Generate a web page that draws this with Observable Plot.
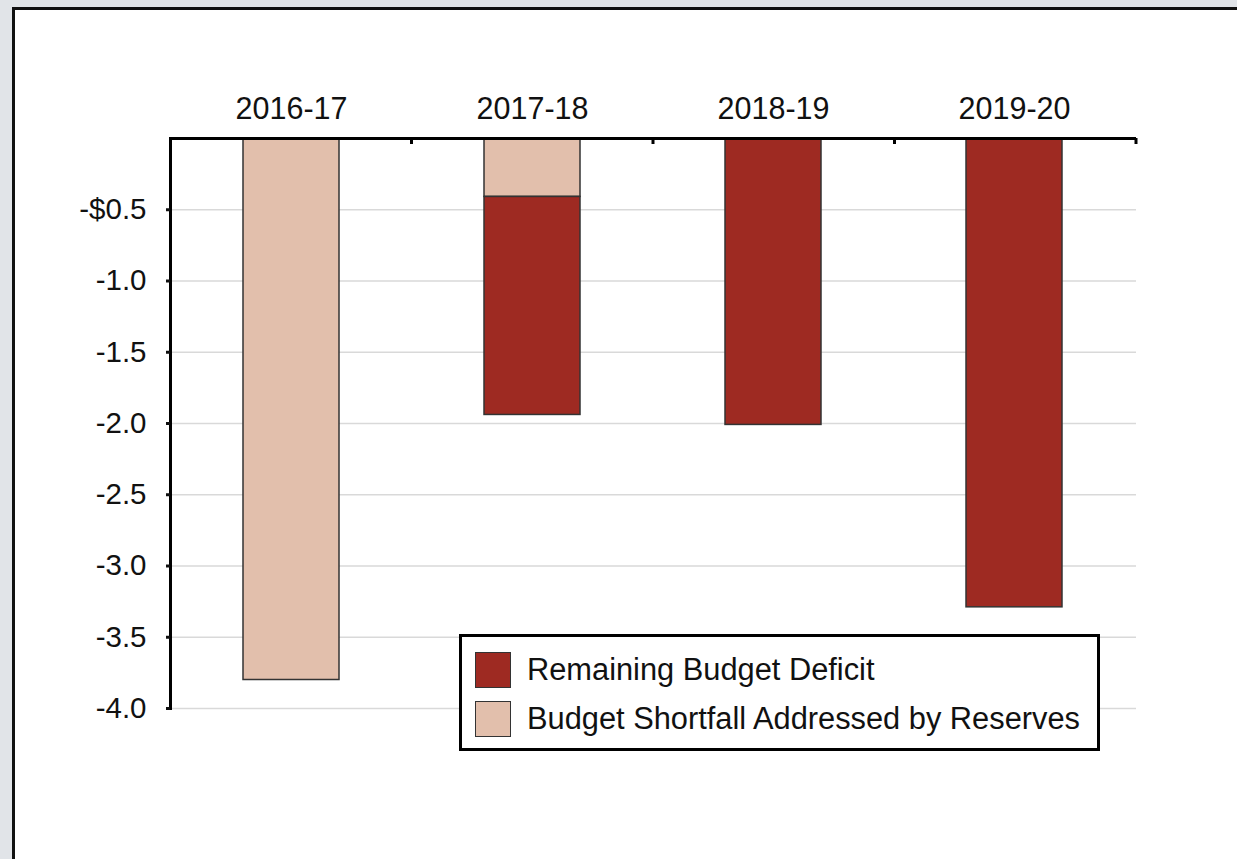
<!DOCTYPE html>
<html><head><meta charset="utf-8">
<script src="https://cdn.jsdelivr.net/npm/d3@7"></script>
<script src="https://cdn.jsdelivr.net/npm/@observablehq/plot@0.6"></script>
<style>
html,body{margin:0;padding:0;background:#e1e4e8;width:1237px;height:859px;overflow:hidden;}
#panel{position:absolute;left:12px;top:7px;width:1300px;height:900px;background:#fff;border:3px solid #111;}
#chart{position:absolute;left:0;top:0;}
#legend{position:absolute;left:459px;top:634px;width:635px;height:111px;border:3px solid #000;background:#fff;
  font-family:"Liberation Sans",Arial,sans-serif;font-size:30.8px;color:#111;box-sizing:content-box;}
.row{position:absolute;left:13px;display:flex;align-items:center;height:38px;}
.sw{width:34px;height:34px;border:1.5px solid #333;margin-right:16px;}
</style></head>
<body><div id="panel"></div><div id="chart"></div><div id="legend"></div>
<script>
const years = ["2016-17", "2017-18", "2018-19", "2019-20"];
const reserves = [-3.8, -0.41, 0, 0];
const deficit = [0, -1.53, -2.01, -3.29];
const series = ["Budget Shortfall Addressed by Reserves", "Remaining Budget Deficit"];
const colors = ["#e2bfac", "#9e2a22"];
const legendOrder = ["Remaining Budget Deficit", "Budget Shortfall Addressed by Reserves"];
const yTicks = [-0.5, -1, -1.5, -2, -2.5, -3, -3.5, -4];
const yTickLabels = ["-$0.5", "-1.0", "-1.5", "-2.0", "-2.5", "-3.0", "-3.5", "-4.0"];

const data = [];
years.forEach((y, i) => {
  if (reserves[i]) data.push({year: y, series: series[0], value: reserves[i]});
  if (deficit[i]) data.push({year: y, series: series[1], value: deficit[i]});
});

function boundaryTicks(index, scales, values, dims) {
  const g = d3.create("svg:g");
  const step = (dims.width - dims.marginLeft - dims.marginRight) / years.length;
  for (let k = 1; k <= years.length; k++) {
    const x = dims.marginLeft + step * k;
    g.append("line").attr("x1", x).attr("x2", x)
      .attr("y1", dims.marginTop).attr("y2", dims.marginTop + 6)
      .attr("stroke", "#000").attr("stroke-width", 3);
  }
  return g.node();
}

const chart = Plot.plot({
  width: 1237,
  height: 859,
  marginLeft: 170,
  marginRight: 101,
  marginTop: 138,
  marginBottom: 151,
  style: {fontFamily: "'Liberation Sans', Arial, sans-serif", background: "transparent", color: "#111"},
  x: {domain: years, paddingInner: 0.6, paddingOuter: 0.3, label: null},
  y: {domain: [-4, 0], label: null},
  color: {domain: series, range: colors},
  marks: [
    Plot.gridY(yTicks, {stroke: "#d9d9d9", strokeOpacity: 1, strokeWidth: 1.5}),
    Plot.barY(data, {x: "year", y: "value", fill: "series", stroke: "#333", strokeWidth: 1.5}),
    Plot.ruleY([0], {stroke: "#000", strokeWidth: 3}),
    Plot.frame({anchor: "left", stroke: "#000", strokeWidth: 3}),
    boundaryTicks,
    Plot.axisY(yTicks, {tickSize: 4, tickPadding: 20, strokeWidth: 3, fontSize: 29.5,
      tickFormat: d => yTickLabels[yTicks.indexOf(d)], label: null}),
    Plot.axisX({anchor: "top", tickSize: 0, tickPadding: 20, fontSize: 30.5, label: null})
  ]
});
document.getElementById("chart").appendChild(chart);

const leg = document.getElementById("legend");
legendOrder.forEach((s, i) => {
  const row = document.createElement("div");
  row.className = "row";
  row.style.top = (14 + i * 49) + "px";
  const sw = document.createElement("div");
  sw.className = "sw";
  sw.style.background = colors[series.indexOf(s)];
  const t = document.createElement("span");
  t.textContent = s;
  row.appendChild(sw); row.appendChild(t);
  leg.appendChild(row);
});
</script>
</body></html>
